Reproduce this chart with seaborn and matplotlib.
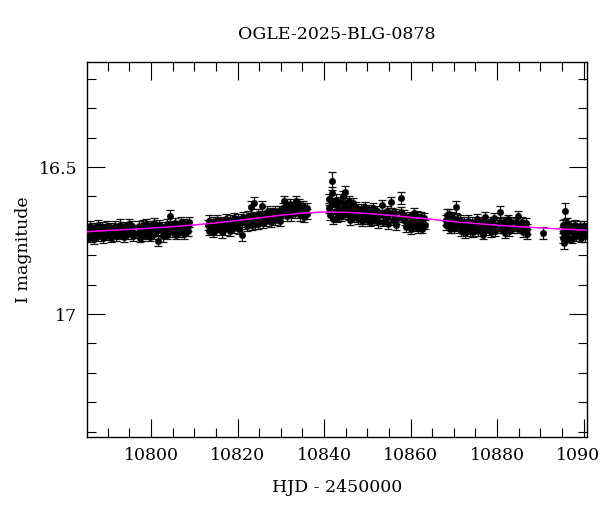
import matplotlib
matplotlib.use("Agg")
import matplotlib.pyplot as plt
from matplotlib.ticker import MultipleLocator, FuncFormatter
import seaborn as sns
import pandas as pd

# ---------------- data ----------------
title = "OGLE-2025-BLG-0878"
x_label = "HJD - 2450000"
y_label = "I magnitude"

hjd = [
    10785.62, 10785.74, 10785.86,
    10786.60, 10786.72, 10786.84,
    10787.58, 10787.70, 10787.82,
    10788.60, 10788.72, 10788.84,
    10789.56, 10789.68, 10789.80,
    10790.60, 10790.72, 10790.84,
    10791.56, 10791.68, 10791.80,
    10792.60, 10792.72, 10792.84,
    10793.56, 10793.68, 10793.80,
    10794.60, 10794.72, 10794.84,
    10795.56, 10795.68, 10795.80,
    10797.10, 10797.22, 10797.34,
    10797.86, 10797.98, 10798.10,
    10798.70, 10798.82, 10798.94,
    10799.60, 10799.72, 10799.84,
    10800.50, 10800.62, 10800.74,
    10801.50, 10801.62, 10801.74,
    10802.60, 10802.72, 10802.84,
    10803.50, 10803.62, 10803.74,
    10804.50, 10804.62, 10804.74,
    10805.50, 10805.62, 10805.74,
    10806.60, 10806.72, 10806.84,
    10807.50, 10807.62, 10807.74,
    10808.50, 10808.62, 10808.74,
    10813.20, 10813.32, 10813.44,
    10814.10, 10814.22, 10814.34,
    10815.00, 10815.12, 10815.24,
    10816.10, 10816.22, 10816.34,
    10817.00, 10817.12, 10817.24,
    10818.10, 10818.22, 10818.34,
    10819.00, 10819.12, 10819.24,
    10820.10, 10820.22, 10820.34,
    10821.00, 10821.12, 10821.24,
    10822.10, 10822.22, 10822.34,
    10823.10, 10823.22, 10823.34,
    10823.70, 10823.82, 10823.94,
    10824.60, 10824.72, 10824.84,
    10825.60, 10825.72, 10825.84,
    10826.50, 10826.62, 10826.74,
    10827.50, 10827.62, 10827.74,
    10828.50, 10828.62, 10828.74,
    10829.50, 10829.62, 10829.74,
    10830.40, 10830.52, 10830.64,
    10831.30, 10831.42, 10831.54,
    10832.20, 10832.32, 10832.44,
    10833.20, 10833.32, 10833.44,
    10834.10, 10834.22, 10834.34,
    10835.10, 10835.22, 10835.34,
    10835.95, 10836.07,
    10841.10, 10841.22, 10841.34,
    10841.80, 10841.86, 10841.92, 10841.98,
    10842.70, 10842.78, 10842.86, 10842.94,
    10843.60, 10843.72, 10843.84,
    10844.50, 10844.62, 10844.74,
    10844.86, 10844.92, 10844.98,
    10845.70, 10845.78, 10845.86, 10845.94,
    10846.60, 10846.72, 10846.84,
    10847.50, 10847.62, 10847.74,
    10848.50, 10848.62, 10848.74,
    10849.40, 10849.52, 10849.64,
    10850.40, 10850.52, 10850.64,
    10851.40, 10851.52, 10851.64,
    10852.30, 10852.42, 10852.54,
    10853.50, 10853.62, 10853.74,
    10854.50, 10854.62, 10854.74,
    10855.60, 10855.72, 10855.84,
    10856.50, 10856.62, 10856.74,
    10857.70, 10857.82, 10857.94,
    10858.60, 10858.72, 10858.84,
    10859.80, 10859.92, 10860.04,
    10860.70, 10860.82, 10860.94,
    10861.60, 10861.72, 10861.84,
    10862.50, 10862.62, 10862.74,
    10863.20, 10863.32,
    10868.10, 10868.22, 10868.34,
    10868.80, 10868.92, 10869.04,
    10869.70, 10869.82, 10869.94,
    10870.60, 10870.72, 10870.84,
    10871.50, 10871.62, 10871.74,
    10872.40, 10872.52, 10872.64,
    10873.40, 10873.52, 10873.64,
    10874.30, 10874.42, 10874.54,
    10875.30, 10875.42, 10875.54,
    10876.40, 10876.52, 10876.64,
    10877.30, 10877.42, 10877.54,
    10878.30, 10878.42, 10878.54,
    10879.30, 10879.42, 10879.54,
    10880.60, 10880.72, 10880.84,
    10881.50, 10881.62, 10881.74,
    10882.50, 10882.62, 10882.74,
    10883.30, 10883.42,
    10884.40, 10884.52,
    10884.86, 10884.98,
    10885.70, 10885.82, 10885.94,
    10886.70, 10886.82, 10886.94,
    10890.60,
    10895.20, 10895.28, 10895.36, 10895.44,
    10895.62, 10895.70, 10895.78,
    10896.20, 10896.32, 10896.44,
    10897.20, 10897.32, 10897.44,
    10898.10, 10898.22, 10898.34,
    10899.10, 10899.22, 10899.34,
    10900.10, 10900.22, 10900.34,
    10900.55, 10900.67,
]

imag = [
    16.722, 16.740, 16.702,
    16.730, 16.708, 16.745,
    16.716, 16.736, 16.698,
    16.727, 16.705, 16.742,
    16.712, 16.733, 16.700,
    16.724, 16.706, 16.740,
    16.719, 16.700, 16.736,
    16.712, 16.730, 16.696,
    16.722, 16.703, 16.738,
    16.708, 16.728, 16.694,
    16.718, 16.700, 16.734,
    16.724, 16.702, 16.740,
    16.713, 16.733, 16.697,
    16.710, 16.730, 16.694,
    16.720, 16.700, 16.737,
    16.708, 16.728, 16.692,
    16.714, 16.752, 16.698,
    16.704, 16.722, 16.736,
    16.712, 16.694, 16.730,
    16.667, 16.700, 16.722,
    16.712, 16.692, 16.730,
    16.702, 16.722, 16.688,
    16.710, 16.692, 16.728,
    16.700, 16.718, 16.688,
    16.698, 16.716, 16.682,
    16.706, 16.688, 16.722,
    16.694, 16.714, 16.680,
    16.702, 16.685, 16.722,
    16.692, 16.712, 16.678,
    16.698, 16.680, 16.716,
    16.688, 16.708, 16.674,
    16.694, 16.676, 16.712,
    16.686, 16.730, 16.670,
    16.682, 16.702, 16.666,
    16.636, 16.676, 16.698,
    16.622, 16.670, 16.694,
    16.678, 16.660, 16.694,
    16.633, 16.668, 16.690,
    16.666, 16.684, 16.652,
    16.672, 16.654, 16.688,
    16.662, 16.680, 16.650,
    16.668, 16.650, 16.684,
    16.638, 16.658, 16.616,
    16.648, 16.628, 16.668,
    16.626, 16.645, 16.664,
    16.636, 16.656, 16.615,
    16.645, 16.626, 16.664,
    16.652, 16.632, 16.670,
    16.640, 16.660,
    16.610, 16.640, 16.664,
    16.548, 16.590, 16.625, 16.676,
    16.628, 16.652, 16.612, 16.672,
    16.618, 16.645, 16.666,
    16.600, 16.636, 16.660,
    16.585, 16.622, 16.654,
    16.615, 16.640, 16.664, 16.680,
    16.622, 16.648, 16.670,
    16.636, 16.656, 16.678,
    16.642, 16.662, 16.684,
    16.636, 16.658, 16.678,
    16.646, 16.664, 16.686,
    16.640, 16.660, 16.680,
    16.648, 16.668, 16.688,
    16.630, 16.662, 16.686,
    16.648, 16.670, 16.694,
    16.620, 16.656, 16.680,
    16.658, 16.676, 16.698,
    16.605, 16.652, 16.672,
    16.664, 16.682, 16.704,
    16.668, 16.690, 16.710,
    16.658, 16.678, 16.700,
    16.666, 16.686, 16.706,
    16.670, 16.692, 16.710,
    16.674, 16.696,
    16.680, 16.698, 16.662,
    16.660, 16.692, 16.710,
    16.670, 16.690, 16.706,
    16.636, 16.676, 16.700,
    16.680, 16.700, 16.716,
    16.688, 16.708, 16.724,
    16.682, 16.702, 16.718,
    16.686, 16.704, 16.722,
    16.678, 16.698, 16.716,
    16.688, 16.708, 16.730,
    16.670, 16.694, 16.714,
    16.686, 16.702, 16.722,
    16.674, 16.696, 16.716,
    16.653, 16.686, 16.710,
    16.688, 16.706, 16.724,
    16.678, 16.700, 16.718,
    16.686, 16.710,
    16.688, 16.708,
    16.667, 16.700,
    16.686, 16.704, 16.720,
    16.692, 16.712, 16.728,
    16.725,
    16.698, 16.720, 16.742, 16.758,
    16.650, 16.712, 16.734,
    16.692, 16.716, 16.740,
    16.702, 16.722, 16.744,
    16.698, 16.714, 16.736,
    16.702, 16.720, 16.740,
    16.700, 16.718, 16.736,
    16.708, 16.726,
]

ierr = [
    0.017, 0.016, 0.018,
    0.016, 0.017, 0.018,
    0.017, 0.016, 0.017,
    0.016, 0.018, 0.017,
    0.017, 0.016, 0.018,
    0.016, 0.017, 0.016,
    0.017, 0.018, 0.016,
    0.017, 0.016, 0.018,
    0.016, 0.017, 0.017,
    0.018, 0.016, 0.017,
    0.017, 0.016, 0.018,
    0.017, 0.018, 0.016,
    0.016, 0.017, 0.018,
    0.017, 0.016, 0.017,
    0.018, 0.017, 0.016,
    0.017, 0.016, 0.018,
    0.016, 0.018, 0.017,
    0.017, 0.016, 0.018,
    0.016, 0.017, 0.016,
    0.020, 0.017, 0.016,
    0.017, 0.018, 0.016,
    0.016, 0.017, 0.018,
    0.017, 0.016, 0.017,
    0.018, 0.016, 0.017,
    0.017, 0.016, 0.018,
    0.016, 0.017, 0.016,
    0.018, 0.017, 0.016,
    0.017, 0.016, 0.018,
    0.016, 0.018, 0.017,
    0.017, 0.016, 0.018,
    0.016, 0.017, 0.017,
    0.018, 0.016, 0.017,
    0.017, 0.020, 0.016,
    0.016, 0.017, 0.018,
    0.019, 0.017, 0.016,
    0.020, 0.016, 0.017,
    0.017, 0.018, 0.016,
    0.019, 0.017, 0.016,
    0.016, 0.017, 0.018,
    0.017, 0.016, 0.017,
    0.018, 0.017, 0.016,
    0.016, 0.018, 0.017,
    0.017, 0.016, 0.018,
    0.016, 0.018, 0.017,
    0.017, 0.016, 0.018,
    0.018, 0.017, 0.016,
    0.016, 0.017, 0.018,
    0.017, 0.018, 0.016,
    0.018, 0.016,
    0.018, 0.017, 0.016,
    0.030, 0.022, 0.018, 0.017,
    0.018, 0.017, 0.020, 0.016,
    0.017, 0.018, 0.016,
    0.020, 0.017, 0.016,
    0.022, 0.018, 0.017,
    0.018, 0.017, 0.016, 0.017,
    0.017, 0.018, 0.016,
    0.018, 0.017, 0.016,
    0.017, 0.018, 0.016,
    0.018, 0.016, 0.017,
    0.017, 0.018, 0.016,
    0.016, 0.017, 0.018,
    0.017, 0.016, 0.018,
    0.018, 0.017, 0.016,
    0.017, 0.018, 0.016,
    0.019, 0.017, 0.016,
    0.016, 0.018, 0.017,
    0.021, 0.017, 0.016,
    0.017, 0.016, 0.018,
    0.016, 0.017, 0.018,
    0.017, 0.018, 0.016,
    0.018, 0.016, 0.017,
    0.017, 0.018, 0.016,
    0.017, 0.016,
    0.017, 0.016, 0.018,
    0.018, 0.017, 0.016,
    0.017, 0.016, 0.018,
    0.021, 0.017, 0.016,
    0.016, 0.018, 0.017,
    0.017, 0.016, 0.018,
    0.018, 0.017, 0.016,
    0.016, 0.018, 0.017,
    0.017, 0.016, 0.018,
    0.018, 0.017, 0.016,
    0.017, 0.016, 0.018,
    0.016, 0.018, 0.017,
    0.017, 0.016, 0.018,
    0.020, 0.017, 0.016,
    0.017, 0.018, 0.016,
    0.016, 0.017, 0.018,
    0.017, 0.016,
    0.016, 0.018,
    0.018, 0.017,
    0.017, 0.016, 0.018,
    0.018, 0.017, 0.016,
    0.020,
    0.018, 0.017, 0.018, 0.020,
    0.027, 0.017, 0.018,
    0.018, 0.017, 0.016,
    0.017, 0.018, 0.016,
    0.018, 0.016, 0.017,
    0.017, 0.018, 0.016,
    0.016, 0.017, 0.018,
    0.017, 0.016,
]

# model curve
model_hjd = [10785.2, 10790, 10795, 10800, 10805, 10810, 10815, 10820,
             10825, 10830, 10835, 10840, 10845, 10850, 10855, 10860,
             10865, 10870, 10875, 10880, 10885, 10890, 10895, 10900.8]
model_mag = [16.720, 16.716, 16.712, 16.708, 16.703, 16.697, 16.690, 16.682,
             16.673, 16.664, 16.657, 16.653, 16.654, 16.658, 16.664, 16.671,
             16.678, 16.686, 16.692, 16.698, 16.703, 16.707, 16.711, 16.715]

x_limits = (10785.2, 10900.8)
y_limits = (17.418, 16.143)

# ---------------- plotting ----------------
sns.set_theme(style="white")
plt.rcParams["font.family"] = ["DejaVu Serif"]
plt.rcParams["mathtext.fontset"] = "dejavuserif"

df = pd.DataFrame({"hjd": hjd, "mag": imag, "err": ierr})
model = pd.DataFrame({"hjd": model_hjd, "mag": model_mag})

fig = plt.figure(figsize=(6.0, 5.12), dpi=100)
ax = fig.add_axes([87 / 600, 1 - 437 / 512, 500 / 600, 375 / 512])

ax.errorbar(df["hjd"], df["mag"], yerr=df["err"], fmt="none",
            ecolor="#111111", elinewidth=0.9, capsize=2.8, capthick=0.9,
            zorder=2)
sns.scatterplot(data=df, x="hjd", y="mag", ax=ax, color="black", s=22,
                edgecolor="black", linewidth=0.3, zorder=3, legend=False)
sns.lineplot(data=model, x="hjd", y="mag", ax=ax, color="#ff00ff",
             linewidth=1.1, zorder=4, legend=False)

ax.set_xlim(*x_limits)
ax.set_ylim(*y_limits)

ax.xaxis.set_major_locator(MultipleLocator(20))
ax.xaxis.set_minor_locator(MultipleLocator(5))
ax.yaxis.set_major_locator(MultipleLocator(0.5))
ax.yaxis.set_minor_locator(MultipleLocator(0.1))
ax.xaxis.set_major_formatter(FuncFormatter(lambda v, p: "%d" % round(v)))
ax.yaxis.set_major_formatter(FuncFormatter(lambda v, p: "%g" % round(v, 2)))

fs = 12.5
ax.tick_params(which="both", direction="in", top=True, right=True,
               bottom=True, left=True, color="black", width=0.8,
               labelsize=fs, labelcolor="black")
ax.tick_params(which="major", length=13, pad=7)
ax.tick_params(which="minor", length=6.5)

for s in ax.spines.values():
    s.set_color("black")
    s.set_linewidth(1.0)
    s.set_visible(True)

ax.set_xlabel(x_label, fontsize=fs, color="black", labelpad=11)
ax.set_ylabel(y_label, fontsize=fs, color="black", labelpad=4.5)
ax.set_title(title, fontsize=fs, color="black", pad=16.5)
ax.grid(False)

fig.savefig("out.png", dpi=100, facecolor="white")
